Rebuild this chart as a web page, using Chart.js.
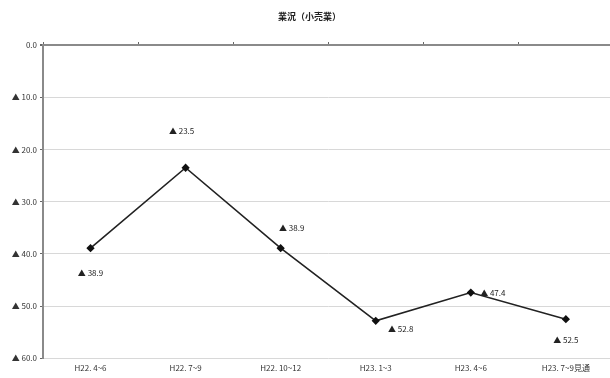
<!DOCTYPE html>
<html lang="ja">
<head>
<meta charset="utf-8">
<title>業況（小売業）</title>
<script src="https://cdn.jsdelivr.net/npm/chart.js@4.4.1/dist/chart.umd.min.js"></script>
<style>
  html, body { margin: 0; padding: 0; background: #fff; overflow: hidden; }
  #wrap { width: 619px; height: 378px; position: relative; }
</style>
</head>
<body>
<div id="wrap"><canvas id="chart"></canvas></div>
<script>
// Survey periods (quarters) and the business-condition DI for the retail sector
const periods = ['H22. 4~6', 'H22. 7~9', 'H22. 10~12', 'H23. 1~3', 'H23. 4~6', 'H23. 7~9見通'];
const diValues = [-38.9, -23.5, -38.9, -52.8, -47.4, -52.5];
const yTicks = [0, -10, -20, -30, -40, -50, -60];

const chartTitle = '業況（小売業）';
const fontFamily = '"Noto Sans CJK JP", "DejaVu Sans", sans-serif';

// Negative numbers are written with a leading triangle
function fmt(v) {
  return v < 0 ? '▲ ' + Math.abs(v).toFixed(1) : v.toFixed(1);
}

// Where each value label sits relative to its point (dx, dy in px)
const labelOffsets = [[0, 25], [-4, -37], [11, -20], [25, 8], [22, 0], [0, 21]];

const valueLabels = {
  id: 'valueLabels',
  afterDatasetsDraw(chart) {
    const ctx = chart.ctx;
    const meta = chart.getDatasetMeta(0);
    ctx.save();
    ctx.font = '8px ' + fontFamily;
    ctx.fillStyle = '#222';
    ctx.textAlign = 'center';
    ctx.textBaseline = 'middle';
    meta.data.forEach((pt, i) => {
      const off = labelOffsets[i] || [0, -12];
      ctx.fillText(fmt(chart.data.datasets[0].data[i]), pt.x + off[0], pt.y + off[1]);
    });
    ctx.restore();
  }
};

new Chart(document.getElementById('chart'), {
  type: 'line',
  data: {
    labels: periods,
    datasets: [{
      data: diValues,
      borderColor: '#222',
      borderWidth: 1.6,
      pointStyle: 'rectRot',
      pointRadius: 3,
      pointBackgroundColor: '#111',
      pointBorderColor: '#111',
      tension: 0,
      fill: false
    }]
  },
  options: {
    responsive: true,
    maintainAspectRatio: false,
    animation: false,
    layout: { padding: { left: 0, right: 0, top: 0, bottom: 0 } },
    plugins: {
      legend: { display: false },
      tooltip: { enabled: false },
      title: {
        display: true,
        text: chartTitle,
        color: '#222',
        font: { family: fontFamily, size: 9, weight: 'bold', lineHeight: 1.2 },
        padding: { top: 11, bottom: 23.2 }
      }
    },
    scales: {
      x: {
        type: 'category',
        position: 'bottom',
        offset: true,
        grid: { display: false, drawTicks: false },
        border: { display: false },
        ticks: {
          color: '#333',
          padding: 5,
          maxRotation: 0,
          autoSkip: false,
          font: { family: fontFamily, size: 8 }
        }
      },
      xTop: {
        type: 'category',
        position: 'top',
        labels: periods,
        offset: true,
        afterFit(s) { s.height = 0; },
        grid: { offset: true, drawOnChartArea: false, tickLength: 3, color: '#666', lineWidth: 1 },
        border: { display: false },
        ticks: { display: false }
      },
      y: {
        min: -60,
        max: 0,
        afterFit(s) { s.width = 43; },
        afterBuildTicks(s) { s.ticks = yTicks.map(v => ({ value: v })); },
        border: { display: true, color: '#8a8a8a', width: 2 },
        grid: {
          color: c => (c.tick && c.tick.value === 0) ? '#8a8a8a' : '#d8d8d8',
          lineWidth: c => (c.tick && c.tick.value === 0) ? 2 : 1,
          tickLength: 3,
          tickColor: '#666'
        },
        ticks: {
          color: '#333',
          padding: 3,
          font: { family: fontFamily, size: 8 },
          callback: v => fmt(v)
        }
      }
    }
  },
  plugins: [valueLabels]
});
</script>
</body>
</html>
